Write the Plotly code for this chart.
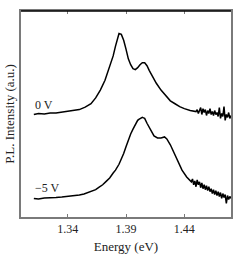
import plotly.graph_objects as go

# 0 V spectrum
e0 = [1.311, 1.315, 1.320, 1.325, 1.330, 1.335, 1.340, 1.345, 1.350, 1.355, 1.360, 1.364, 1.368,
      1.372, 1.376, 1.379, 1.381, 1.383, 1.384, 1.386, 1.388, 1.390, 1.392, 1.394, 1.396, 1.398,
      1.400, 1.402, 1.404, 1.406, 1.408, 1.410, 1.413, 1.416, 1.420, 1.424, 1.428, 1.432, 1.436,
      1.440, 1.445,
      1.450, 1.451, 1.452, 1.453, 1.454, 1.455, 1.456, 1.457, 1.458, 1.459, 1.460, 1.461, 1.462,
      1.463, 1.464, 1.465, 1.466, 1.467, 1.468, 1.469, 1.470, 1.471, 1.472, 1.473, 1.474, 1.475,
      1.476, 1.477, 1.478, 1.479, 1.480]
i0 = [105, 106, 105.5, 106.5, 106.5, 107.5, 108, 109, 110, 112.5, 116, 122, 130,
      140, 154, 165, 175, 183, 188, 187, 181, 172, 162, 156, 152, 151,
      153, 156, 158, 158, 155, 150, 143, 137, 130, 124, 119, 116, 113,
      111, 109,
      108, 110, 106, 109, 112, 105, 111, 107, 110, 104, 109, 106, 111,
      105, 108, 104, 109, 105, 107, 103, 112, 101, 106, 103, 113, 99,
      105, 102, 107, 101, 104]

# -5 V spectrum
e5 = [1.311, 1.315, 1.320, 1.325, 1.330, 1.335, 1.340, 1.345, 1.350, 1.354, 1.358, 1.361, 1.364,
      1.367, 1.370, 1.373, 1.376, 1.379, 1.381, 1.384, 1.386, 1.388, 1.390, 1.392, 1.394, 1.396,
      1.398, 1.400, 1.401, 1.403, 1.404, 1.405, 1.406, 1.408, 1.411, 1.414, 1.417, 1.420, 1.423,
      1.425, 1.428, 1.431, 1.434, 1.438, 1.442,
      1.446, 1.447, 1.448, 1.449, 1.450, 1.451, 1.452, 1.453, 1.454, 1.455, 1.456, 1.457, 1.458,
      1.459, 1.460, 1.461, 1.462, 1.463, 1.464, 1.465, 1.466, 1.467, 1.468, 1.469, 1.470, 1.471,
      1.472, 1.473, 1.474, 1.475, 1.476, 1.477, 1.478, 1.479, 1.480]
i5 = [19, 18.5, 19.5, 19.5, 20, 20.5, 21, 21.5, 22.5, 23.5, 25, 26.5, 28,
      30.5, 33, 36.5, 40, 45, 48, 54, 59, 65, 72, 79, 85, 90,
      95, 99, 100, 101, 102, 101.5, 101, 96, 89, 83, 81, 81, 82,
      80, 74, 66, 57, 48, 41,
      36, 39, 33, 37, 31, 38, 33, 36, 30, 35, 29, 33, 28,
      32, 27, 31, 26, 29, 24, 28, 23, 27, 22, 26, 21, 25,
      19, 24, 20, 23, 14, 22, 18, 21, 19]

labels = ["0 V", "\u22125 V"]
label_y = [115, 30]
x_ticks = [1.34, 1.39, 1.44]

FONT = "Liberation Serif"
AX = "#7a7a7a"

fig = go.Figure()
for e, i in [(e0, i0), (e5, i5)]:
    fig.add_trace(go.Scatter(x=e, y=i, mode="lines",
                             line=dict(color="black", width=1.5), showlegend=False))

for t, yv in zip(labels, label_y):
    fig.add_annotation(x=1.3105, y=yv, text=t, showarrow=False, xanchor="left",
                       yanchor="middle", font=dict(family=FONT, size=12, color="#222"))

fig.add_shape(type="line", xref="paper", yref="paper", x0=0, x1=1, y0=1, y1=1,
              line=dict(color="black", width=1.5))

fig.update_layout(
    width=242, height=261,
    margin=dict(l=21, r=9, t=9, b=41),
    paper_bgcolor="white", plot_bgcolor="white",
    font=dict(family=FONT, size=12, color="#222"),
    xaxis=dict(range=[1.30, 1.48], tickvals=x_ticks, ticktext=[f"{v:.2f}" for v in x_ticks],
               ticks="inside", ticklen=3, tickcolor=AX, showline=True, linecolor=AX,
               linewidth=1.5, mirror="ticks", showgrid=False, zeroline=False,
               title=dict(text="Energy (eV)", font=dict(family=FONT, size=13), standoff=7),
               tickfont=dict(family=FONT, size=12)),
    yaxis=dict(range=[0, 211], showticklabels=False, ticks="", showline=True, linecolor=AX,
               linewidth=1.5, mirror=True, showgrid=False, zeroline=False,
               title=dict(text="P.L. Intensity (a.u.)", font=dict(family=FONT, size=13), standoff=2)),
)

fig.write_html("out.html")
